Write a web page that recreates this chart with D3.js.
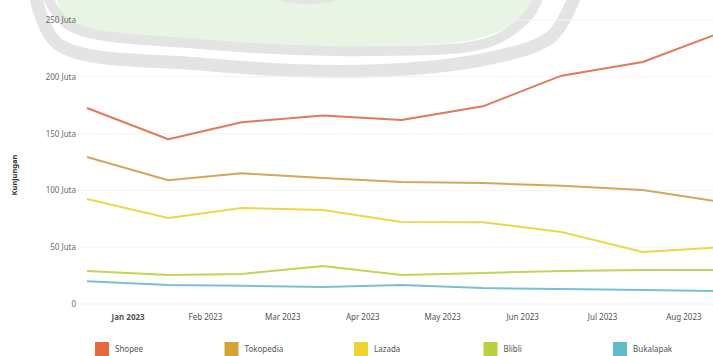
<!DOCTYPE html>
<html lang="en">
    <head>
        <meta charset="utf-8" />
        <title>Kunjungan e-commerce 2023</title>
        <script src="https://d3js.org/d3.v7.min.js"></script>
        <style>
            body {
                margin: 0;
                background: #fff;
            }
            text {
                font-family: "Noto Sans", "DejaVu Sans", sans-serif;
            }
        </style>
    </head>
    <body>
        <div id="chart"></div>
        <script>
            // monthly visits, in juta (million)
            var months = ["2023-01-01", "2023-02-01", "2023-03-01", "2023-04-01", "2023-05-01",
                "2023-06-01", "2023-07-01", "2023-08-01", "2023-09-01"];
            var monthLabels = ["Jan 2023", "Feb 2023", "Mar 2023", "Apr 2023",
                "May 2023", "Jun 2023", "Jul 2023", "Aug 2023"];
            var names = ["Shopee", "Tokopedia", "Lazada", "Blibli", "Bukalapak"];
            var shopee = [172.5, 145, 160, 166, 162, 174, 201, 213, 240];
            var tokopedia = [129.4, 109, 115, 111, 107.4, 106.5, 104, 100.4, 89.5];
            var lazada = [92.4, 75.7, 84.5, 82.7, 72.2, 72, 63.4, 45.8, 50];
            var blibli = [29, 25.5, 26.4, 33.5, 25.5, 27.3, 29, 30, 30];
            var bukalapak = [20, 16.7, 16, 15, 16.7, 14, 13.2, 12.3, 11.2];
            var yTicks = [0, 50, 100, 150, 200, 250];

            var series = [shopee, tokopedia, lazada, blibli, bukalapak];
            var lineColors = ["#e2785c", "#d2a85a", "#e9d84e", "#c3d458", "#79c0cf"];
            var swatchColors = ["#e8683e", "#d4a431", "#efd42c", "#b9d13e", "#5fbdca"];

            var width = 713,
                height = 356;

            var svg = d3
                .select("#chart")
                .append("svg")
                .attr("width", width)
                .attr("height", height);

            // faint watermark behind the chart
            var wm = svg.append("g");
            var bandLine = d3.line().curve(d3.curveCatmullRom);
            wm.append("path")
                .attr("d", bandLine([[56, -2], [72, 22], [200, 42], [360, 46], [480, 38], [532, 12], [540, -2]]) + "Z")
                .attr("fill", "#e8f4e4");
            wm.append("path")
                .attr("d", bandLine([[48, -2], [70, 26], [200, 44], [370, 51], [490, 42], [528, 16], [538, -2]]))
                .attr("fill", "none")
                .attr("stroke", "#e4e4e4")
                .attr("stroke-width", 10);
            wm.append("path")
                .attr("d", bandLine([[36, -2], [58, 44], [200, 64], [370, 71], [500, 56], [552, 36], [574, -2]]))
                .attr("fill", "none")
                .attr("stroke", "#e4e4e4")
                .attr("stroke-width", 13);
            wm.append("path")
                .attr("d", d3.arc()({ innerRadius: 100, outerRadius: 106, startAngle: Math.PI * 0.6, endAngle: Math.PI * 1.4 }))
                .attr("transform", "translate(308,-102)")
                .attr("fill", "#e4e4e4");

            var x = d3
                .scaleTime()
                .domain([new Date(months[0]), new Date(months[months.length - 1])])
                .range([87, 724]);

            var y = d3.scaleLinear().domain([0, 250]).range([304, 20]);

            // grid
            svg.append("g")
                .selectAll("line")
                .data(yTicks.slice(1))
                .enter()
                .append("line")
                .attr("x1", 80)
                .attr("x2", width)
                .attr("y1", (d) => y(d))
                .attr("y2", (d) => y(d))
                .attr("stroke", "#f3f3f3");

            svg.append("line")
                .attr("x1", 80)
                .attr("x2", width)
                .attr("y1", y(0))
                .attr("y2", y(0))
                .attr("stroke", "#eadede")
                .attr("stroke-dasharray", "2,2");

            // y axis
            var yAxis = svg
                .append("g")
                .attr("transform", "translate(76,0)")
                .call(
                    d3
                        .axisLeft(y)
                        .tickValues(yTicks)
                        .tickSize(0)
                        .tickFormat((d) => (d === 0 ? "0" : d + " Juta"))
                );
            yAxis.select(".domain").remove();
            yAxis.selectAll("text")
                .attr("x", 0)
                .attr("font-size", 8)
                .attr("fill", "#6b6b6b");

            svg.append("text")
                .attr("transform", "translate(17,175) rotate(-90)")
                .attr("text-anchor", "middle")
                .attr("font-size", 7.5)
                .attr("font-weight", "bold")
                .attr("fill", "#333")
                .text("Kunjungan");

            // x axis, labels sit in the middle of each month
            var midMonths = monthLabels.map(function (m, i) {
                var a = new Date(months[i]),
                    b = new Date(months[i + 1]);
                return new Date((a.getTime() + b.getTime()) / 2);
            });
            var xAxis = svg
                .append("g")
                .attr("transform", "translate(0,311)")
                .call(
                    d3
                        .axisBottom(x)
                        .tickValues(midMonths)
                        .tickSize(0)
                        .tickFormat((d, i) => monthLabels[i])
                );
            xAxis.select(".domain").remove();
            xAxis.selectAll("text")
                .attr("font-size", 8)
                .attr("fill", "#555")
                .attr("font-weight", (d, i) => (i === 0 ? "bold" : "normal"));

            // lines
            var line = d3
                .line()
                .x((d, i) => x(new Date(months[i])))
                .y((d) => y(d))
                .curve(d3.curveLinear);

            svg.append("g")
                .selectAll("path")
                .data(series)
                .enter()
                .append("path")
                .attr("d", line)
                .attr("fill", "none")
                .attr("stroke", (d, i) => lineColors[i])
                .attr("stroke-width", 2)
                .attr("stroke-linejoin", "round");

            // legend
            var legend = svg
                .append("g")
                .selectAll("g")
                .data(names)
                .enter()
                .append("g")
                .attr("transform", (d, i) => "translate(" + (95 + i * 129.5) + ",342)");
            legend.append("rect")
                .attr("width", 14)
                .attr("height", 14)
                .attr("fill", (d, i) => swatchColors[i]);
            legend.append("text")
                .attr("x", 20)
                .attr("y", 7)
                .attr("dy", "0.35em")
                .attr("font-size", 8)
                .attr("fill", "#555")
                .text((d) => d);
        </script>
    </body>
</html>
